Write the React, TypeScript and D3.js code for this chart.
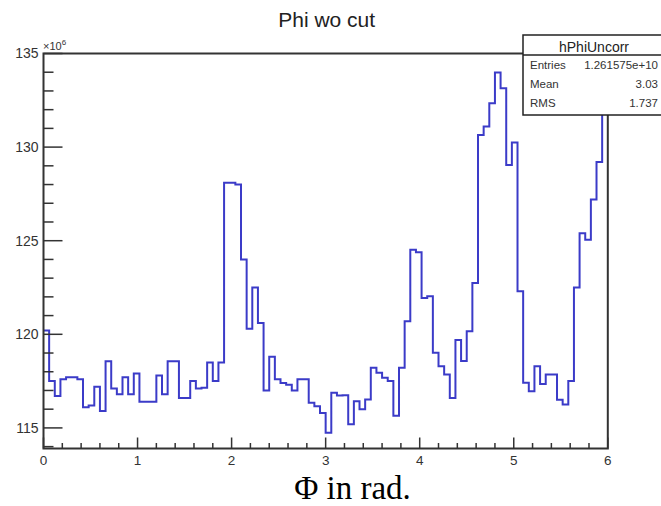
import React from "react";
import * as d3 from "d3";

// Histogram bin contents (x10^6), 100 bins of width 0.06 over [0, 6]
const binValues: number[] = [
  120.2, 117.5, 116.7, 117.6, 117.7, 117.7, 117.6, 116.1, 116.2, 117.2,
  115.9, 118.56, 117.1, 116.8, 117.7, 116.8, 117.9, 116.4, 116.4, 116.4,
  117.8, 116.8, 118.56, 118.56, 116.6, 116.6, 117.5, 117.1, 117.15, 118.5,
  117.5, 118.5, 128.1, 128.1, 128.0, 124.0, 120.3, 122.5, 120.6, 117.0,
  118.8, 117.6, 117.4, 117.3, 117.0, 117.6, 117.6, 116.34, 116.16, 115.8,
  114.74, 116.88, 116.73, 116.75, 115.19, 116.43, 116.0, 116.52, 118.21, 117.94,
  117.68, 117.5, 115.65, 118.21, 120.7, 124.52, 124.38, 121.94, 122.03, 119.01,
  118.3, 117.85, 116.6, 119.7, 118.58, 120.16, 122.74, 130.65, 131.1, 132.34,
  133.98, 133.14, 129.05, 130.24, 122.3, 117.41, 116.96, 118.3, 117.35, 117.85,
  117.85, 116.5, 116.25, 117.5, 122.5, 125.4, 125.05, 127.2, 129.2, 134.0,
];
const binStart = 0;
const binWidth = 0.06;

const xTickLabels: number[] = [0, 1, 2, 3, 4, 5, 6];
const yTickLabels: number[] = [115, 120, 125, 130, 135];

const statsName = "hPhiUncorr";
const statsRows: [string, string][] = [
  ["Entries", "1.261575e+10"],
  ["Mean", "3.03"],
  ["RMS", "1.737"],
];

const title = "Phi wo cut";
const xTitle = "\u03A6 in rad.";

export default function App() {
  const W = 661, H = 506;
  const L = 43.5, R = 607.8, T = 53.5, B = 448.5;
  const x = d3.scaleLinear().domain([0, 6]).range([L, R]);
  const y = d3.scaleLinear().domain([113.9, 135]).range([B, T]);

  const pts: [number, number][] = binValues.map((v, i) => [binStart + i * binWidth, v]);
  pts.push([binStart + binValues.length * binWidth, binValues[binValues.length - 1]]);
  const line = d3
    .line<[number, number]>()
    .x((d) => x(Math.min(d[0], 6)))
    .y((d) => y(d[1]))
    .curve(d3.curveStepAfter);
  const path = line(pts) || "";

  const xMinor = d3.range(0, 6.0001, 0.2);
  const yMinor = d3.range(114, 135.0001, 1);
  const sans = "Liberation Sans, Arial, Helvetica, sans-serif";
  const axisCol = "#333";

  const boxL = 523, boxT = 35, boxSep = 55, boxB = 115, boxR = 665;

  return (
    <svg
      width={W}
      height={H}
      style={{ position: "absolute", left: 0, top: 0, background: "#fff" }}
    >
      <rect x={0} y={0} width={W} height={H} fill="#fff" />
      <text x={326.7} y={26.5} textAnchor="middle" fontFamily={sans} fontSize={21} fill="#222">
        {title}
      </text>

      <path d={path} fill="none" stroke="#3b3bc8" strokeWidth={2} />

      {/* frame */}
      <rect x={L} y={T} width={R - L} height={B - T} fill="none" stroke={axisCol} strokeWidth={2} />

      {/* x ticks */}
      {xMinor.map((v, i) => {
        const major = Math.abs(v - Math.round(v)) < 1e-6;
        return (
          <line key={"xm" + i} x1={x(v)} x2={x(v)} y1={B} y2={B - (major ? 11 : 5.5)} stroke={axisCol} strokeWidth={1.5} />
        );
      })}
      {xTickLabels.map((v) => (
        <text key={"xl" + v} x={x(v)} y={465} textAnchor="middle" fontFamily={sans} fontSize={13.5} fill="#333">
          {v}
        </text>
      ))}

      {/* y ticks */}
      {yMinor.map((v, i) => {
        const major = v % 5 === 0;
        return (
          <line key={"ym" + i} x1={L} x2={L + (major ? 19 : 10)} y1={y(v)} y2={y(v)} stroke={axisCol} strokeWidth={1.5} />
        );
      })}
      {yTickLabels.map((v) => (
        <text key={"yl" + v} x={38.5} y={y(v)} dy="0.35em" textAnchor="end" fontFamily={sans} fontSize={14} fill="#333">
          {v}
        </text>
      ))}
      <text x={43} y={50} fontFamily={sans} fontSize={11} fill="#333">
        ×10
        <tspan dy={-5} fontSize={8}>6</tspan>
      </text>

      {/* stats box */}
      <rect x={boxL} y={boxT} width={boxR - boxL} height={boxB - boxT} fill="#fff" stroke="#222" strokeWidth={1.5} />
      <line x1={boxL} x2={boxR} y1={boxSep} y2={boxSep} stroke="#222" strokeWidth={1.5} />
      <text x={594} y={51.5} textAnchor="middle" fontFamily={sans} fontSize={14} fill="#222">
        {statsName}
      </text>
      {statsRows.map((r, i) => (
        <g key={"sr" + i}>
          <text x={530} y={69 + i * 19} fontFamily={sans} fontSize={11.5} fill="#333">
            {r[0]}
          </text>
          <text x={658} y={69 + i * 19} textAnchor="end" fontFamily={sans} fontSize={11.5} fill="#333">
            {r[1]}
          </text>
        </g>
      ))}

      <text x={352.5} y={498.5} textAnchor="middle" fontFamily="Liberation Serif, 'Times New Roman', serif" fontSize={33} fill="#000">
        {xTitle}
      </text>
    </svg>
  );
}
